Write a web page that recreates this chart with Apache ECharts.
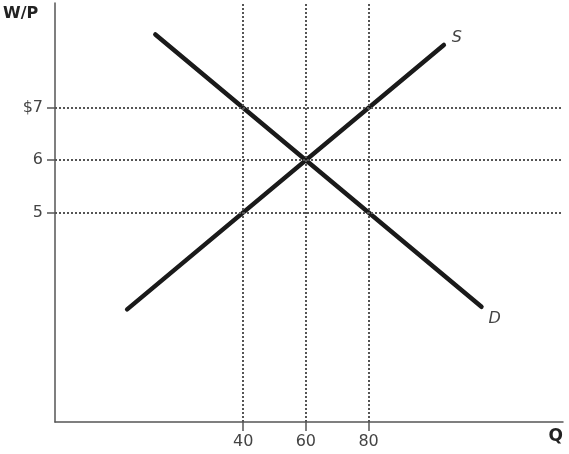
<!DOCTYPE html>
<html lang="en" style="height: 100%">
<head>
  <meta charset="utf-8">
  <title>Labor market: W/P and Q</title>
  <script type="text/javascript" src="https://fastly.jsdelivr.net/npm/echarts@6/dist/echarts.min.js"></script>
</head>
<body style="height: 100%; margin: 0; background: #fff">
  <div id="chart" style="width: 569px; height: 454px"></div>

  <script type="text/javascript">
    // quantities marked on the Q axis, real wages marked on the W/P axis
    var qTicks = [40, 60, 80];
    var wTicks = [5, 6, 7];

    var supply = [[3, 3.15], [104, 8.2]];
    var demand = [[12, 8.4], [116, 3.2]];

    var dom = document.getElementById('chart');
    var myChart = echarts.init(dom);

    var guides = qTicks.map(q => ({ xAxis: q }))
      .concat(wTicks.map(w => ({ yAxis: w })));

    var font = '"DejaVu Sans", Verdana, sans-serif';

    let option = {
      animation: false,
      grid: { left: 55, right: 6, top: 3, bottom: 32, containLabel: false, outerBoundsMode: 'none' },
      xAxis: {
        type: 'value',
        min: -20,
        max: 142,
        axisLine: { onZero: false, lineStyle: { color: '#555', width: 1.5 } },
        axisTick: { show: true, customValues: qTicks, length: 9, lineStyle: { color: '#555', width: 1.5 } },
        axisLabel: { customValues: qTicks, margin: 12, color: '#444', fontSize: 16, fontFamily: font },
        splitLine: { show: false }
      },
      yAxis: {
        type: 'value',
        min: 1,
        max: 9,
        axisLine: { show: true, onZero: false, lineStyle: { color: '#555', width: 1.5 } },
        axisTick: { show: true, customValues: wTicks, length: 8, lineStyle: { color: '#555', width: 1.5 } },
        axisLabel: {
          customValues: wTicks, margin: 12, color: '#444', fontSize: 16, fontFamily: font,
          formatter: v => v === 7 ? '$7' : String(v)
        },
        splitLine: { show: false }
      },
      graphic: [
        { type: 'text', left: 3, top: 6, style: { text: 'W/P', font: 'bold 16px ' + font, fill: '#222' } },
        { type: 'text', right: 6, top: 428, style: { text: 'Q', font: 'bold 17px ' + font, fill: '#222' } }
      ],
      series: [
        {
          name: 'guides',
          type: 'line',
          data: [],
          silent: true,
          markLine: {
            silent: true,
            symbol: 'none',
            label: { show: false },
            lineStyle: { color: '#555', width: 2, type: [2, 2] },
            data: guides
          }
        },
        {
          name: 'S',
          type: 'line',
          data: supply,
          showSymbol: false,
          lineStyle: { color: '#1a1a1a', width: 4.5, cap: 'round' },
          endLabel: {
            show: true, formatter: 'S', offset: [0, -7],
            color: '#444', fontSize: 16, fontStyle: 'italic', fontFamily: font
          }
        },
        {
          name: 'D',
          type: 'line',
          data: demand,
          showSymbol: false,
          lineStyle: { color: '#1a1a1a', width: 4.5, cap: 'round' },
          endLabel: {
            show: true, formatter: 'D', offset: [-1, 12],
            color: '#444', fontSize: 16, fontStyle: 'italic', fontFamily: font
          }
        }
      ]
    };

    myChart.setOption(option);
  </script>
</body>
</html>
